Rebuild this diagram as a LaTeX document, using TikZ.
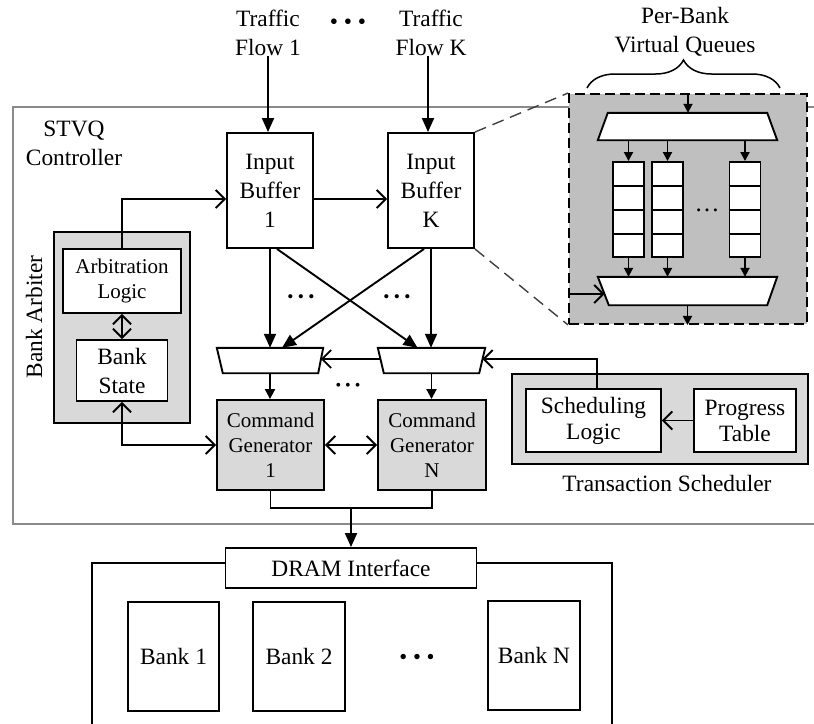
\documentclass[tikz,border=0pt]{standalone}
\usepackage{fontspec}
\setmainfont{Liberation Serif}
\usetikzlibrary{arrows.meta,decorations.pathreplacing}
\definecolor{boxgray}{HTML}{D9D9D9}
\definecolor{panelgray}{HTML}{BFBFBF}
\definecolor{framegray}{HTML}{8A8A8A}
\definecolor{zoomgray}{HTML}{404040}
\newcommand\txtL{\fontsize{23.4}{29}\selectfont}
\newcommand\txtS{\fontsize{23.4}{26}\selectfont}
\newcommand\txtM{\fontsize{21}{25}\selectfont}
\tikzset{
  lw/.style={line width=1.9pt},
  blk/.style={draw, lw, fill=white, align=center, inner sep=0pt, font=\txtL},
  gblk/.style={blk, fill=boxgray},
  plain/.style={align=center, inner sep=0pt, font=\txtL},
  muxarea/.style={inner sep=0pt, minimum width=#1, minimum height=25pt},
  flowarrow/.style={lw, -{Triangle[length=14pt,width=12pt]}},
  smallarrow/.style={lw, -{Triangle[length=9pt,width=9pt]}},
  barb/.style={lw, -{Straight Barb[length=9pt,width=18pt]}},
  barbboth/.style={lw, {Straight Barb[length=9pt,width=18pt]}-{Straight Barb[length=9pt,width=18pt]}},
  zoomline/.style={zoomgray, line width=1.4pt, dash pattern=on 12pt off 7pt},
}
\begin{document}
\begin{tikzpicture}[x=1pt,y=-1pt]
\useasboundingbox (0,0) rectangle (814,723);
\clip (0,0) rectangle (814,723);

% controller frame
\draw[framegray, line width=1.5pt] (13,107) rectangle (840,524);
\node[plain] (ctrl) at (74,143) {STVQ\\Controller};

% traffic inputs
\node[plain] (tf1) at (268,33) {Traffic\\Flow 1};
\node[plain] (tfk) at (431,33) {Traffic\\Flow K};
\node[plain] (tdots) at (348,24) {• • •};

% input buffers
\node[blk, minimum width=86pt, minimum height=115pt] (ib1) at (270,190.5) {Input\\Buffer\\1};
\node[blk, minimum width=86pt, minimum height=115pt] (ibk) at (431,190.5) {Input\\Buffer\\K};
\draw[flowarrow] (tf1.south) -- (tf1.south |- ib1.north);
\draw[flowarrow] ([xshift=-3pt]tfk.south) -- ([xshift=-3pt]tfk.south |- ibk.north);

% bank arbiter
\node[gblk, minimum width=136pt, minimum height=191pt] (arb) at (122,327.5) {};
\node[plain, rotate=90] (arbname) at (34,317) {Bank Arbiter};
\node[blk, font=\txtM, minimum width=118pt, minimum height=64pt] (arl) at (122,281) {Arbitration\\Logic};
\node[blk, minimum width=91pt, minimum height=61pt] (bst) at (122,370.5) {Bank\\State};

% multiplexers in front of the command generators
\node[muxarea=106pt] (mux1) at (270,360.5) {};
\node[muxarea=107pt] (mux2) at (431.5,360.5) {};
\draw[lw, fill=white] (mux1.north west) -- (mux1.north east) -- ([xshift=-5pt]mux1.south east) -- ([xshift=6pt]mux1.south west) -- cycle;
\draw[lw, fill=white] (mux2.north west) -- (mux2.north east) -- ([xshift=-6pt]mux2.south east) -- ([xshift=6pt]mux2.south west) -- cycle;
\coordinate (m1e) at (320.8,359);
\coordinate (m2w) at (380.6,359);
\coordinate (m2e) at (482.4,359);

% crossbar from the buffers
\draw[flowarrow] (ib1.south) -- (mux1.north);
\draw[flowarrow] ([xshift=7pt]ib1.south) -- ([xshift=-14pt]mux2.north);
\draw[flowarrow] (ibk.south) -- (ibk.south |- mux2.north);
\draw[flowarrow] ([xshift=-7pt]ibk.south) -- ([xshift=12pt]mux1.north);
\node[plain, font=\fontsize{17.5}{20}\selectfont] (xd1) at (301,299) {• • •};
\node[plain, font=\fontsize{17.5}{20}\selectfont] (xd2) at (397,299) {• • •};

% command generators
\node[gblk, font=\txtM, minimum width=107pt, minimum height=90pt] (cg1) at (270.5,445) {Command\\Generator\\1};
\node[gblk, font=\txtM, minimum width=108pt, minimum height=90pt] (cgn) at (432,445) {Command\\Generator\\N};
\draw[lw, -{Triangle[length=10pt,width=10pt]}] (mux1.south) -- (mux1.south |- cg1.north);
\draw[lw, -{Triangle[length=10pt,width=10pt]}] (mux2.south) -- (mux2.south |- cgn.north);
\node[plain, font=\fontsize{16}{18}\selectfont] (mdots) at (348,387) {• • •};

% transaction scheduler
\node[gblk, minimum width=296pt, minimum height=90pt] (ts) at (660,419) {};
\node[blk, font=\txtS, minimum width=135pt, minimum height=63pt] (sl) at (593.5,420.5) {Scheduling\\Logic};
\node[blk, font=\txtS, minimum width=102pt, minimum height=63pt] (pt) at (745,420.5) {Progress\\Table};
\node[plain] (tsname) at (667,483) {Transaction Scheduler};

% control connections
\draw[barb] (arl.north) |- ([yshift=-8.5pt]ib1.west);
\draw[barb] ([yshift=-8.5pt]ib1.east) -- ([yshift=-8.5pt]ibk.west);
\draw[barbboth] (arl.south) -- (bst.north);
\draw[barbboth] (bst.south) |- (cg1.west);
\draw[barbboth] (cg1.east) -- (cgn.west);
\draw[barb] (m2w) -- (m1e);
\draw[barb] ([xshift=3.5pt]sl.north) |- (m2e);
\draw[barb] (pt.west) -- (sl.east);

% DRAM side
\node[blk, minimum width=251pt, minimum height=40pt] (dram) at (351,568) {DRAM Interface};
\draw[line width=1.4pt] ([yshift=5pt]dram.west) -| (92,740);
\draw[line width=1.4pt] ([yshift=5pt]dram.east) -| (612,740);
\coordinate (join) at (351,508);
\draw[lw] (cg1.south) |- (join) -| (cgn.south);
\draw[flowarrow] (join) -- (dram.north);
\node[blk, minimum width=91pt, minimum height=109pt] (bank1) at (173.5,656.5) {Bank 1};
\node[blk, minimum width=92pt, minimum height=109pt] (bank2) at (299,656.5) {Bank 2};
\node[blk, minimum width=92pt, minimum height=109pt] (bankn) at (534,655.5) {Bank N};
\node[plain, font=\fontsize{22.6}{24}\selectfont] (bdots) at (417,659) {• • •};

% per-bank virtual queue detail
\node[draw, lw, dash pattern=on 10pt off 5pt, fill=panelgray, minimum width=238pt, minimum height=230pt, inner sep=0pt] (panel) at (688,209) {};
\draw[zoomline] (ibk.north east) -- (panel.north west);
\draw[zoomline] (ibk.south east) -- (panel.south west);
\node[plain] (pbq) at (685,32) {Per-Bank\\Virtual Queues};
\draw[decorate, decoration={brace, amplitude=28pt}, line width=1.5pt] (587,88) -- (780,88);

\node[muxarea=179pt, minimum height=27pt] (demux) at (687.5,126.5) {};
\draw[lw, fill=white] ([xshift=10pt]demux.north west) -- ([xshift=-10pt]demux.north east) -- (demux.south east) -- (demux.south west) -- cycle;
\draw[smallarrow] (panel.north) -- (panel.north |- demux.north);

\node[muxarea=179pt, minimum height=28pt] (bmux) at (687.5,291) {};
\draw[lw, fill=white] (bmux.north west) -- (bmux.north east) -- ([xshift=-10pt]bmux.south east) -- ([xshift=11pt]bmux.south west) -- cycle;
\coordinate (bmuxin) at (604.5,294);
\draw[barb] (panel.west |- bmuxin) -- (bmuxin);
\draw[smallarrow] (bmux.south) -- (bmux.south |- panel.south);

\foreach \n/\xc in {q1/628.5, q2/667.5, q3/745} {
  \node[draw, lw, fill=white, minimum width=31pt, minimum height=95pt, inner sep=0pt] (\n) at (\xc,209.5) {};
  \foreach \yy in {186,210,234} \draw[lw] (\xc-15.5,\yy) -- (\xc+15.5,\yy);
  \draw[smallarrow] (\n.north |- demux.south) -- (\n.north);
  \draw[smallarrow] (\n.south) -- (\n.south |- bmux.north);
}
\node[plain, font=\fontsize{25}{25}\selectfont] (qdots) at (707,210) {…};
\end{tikzpicture}
\end{document}
